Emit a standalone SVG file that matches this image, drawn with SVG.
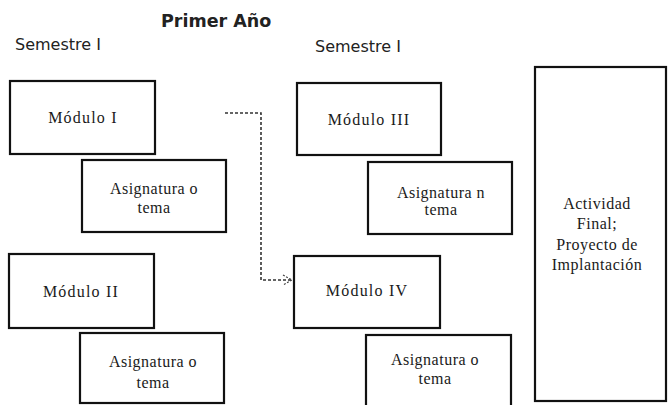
<svg xmlns="http://www.w3.org/2000/svg" width="668" height="405" viewBox="0 0 668 405">
<defs>
<style>
.box{fill:#fff;stroke:#111;stroke-width:2.2}
.lbl{font-family:"Liberation Serif","Times New Roman",serif;font-size:16px;fill:#1a1a1a;text-anchor:middle}
.mod{letter-spacing:1.2px}
.asig{letter-spacing:0.5px}
.hdr{font-family:"DejaVu Sans","Liberation Sans",sans-serif;font-size:16px;fill:#222}
.title{font-family:"DejaVu Sans","Liberation Sans",sans-serif;font-size:17.5px;font-weight:bold;fill:#222}
.conn{fill:none;stroke:#333;stroke-width:1.6;stroke-dasharray:3 2}
</style>
<marker id="arr" markerWidth="12" markerHeight="12" refX="10" refY="6" orient="auto" markerUnits="userSpaceOnUse">
<path d="M1,1 L10,6 L1,11" fill="none" stroke="#444" stroke-width="1.2" stroke-dasharray="2 1.5"/>
</marker>
</defs>
<rect width="668" height="405" fill="#fff"/>
<text class="title" x="161" y="27">Primer Año</text>
<text class="hdr" x="15" y="50">Semestre I</text>
<text class="hdr" x="315" y="52">Semestre I</text>
<g id="connectors">
<path class="conn" d="M225,113 H261 V280 H292" marker-end="url(#arr)"/>
</g>
<g id="modulo1">
<rect class="box" x="10" y="81" width="145" height="73"/>
<text class="lbl mod" x="83" y="123">Módulo I</text>
</g>
<g id="asignatura1">
<rect class="box" x="82" y="160" width="144" height="72"/>
<text class="lbl asig" x="154" y="194">Asignatura o</text>
<text class="lbl asig" x="154" y="213">tema</text>
</g>
<g id="modulo2">
<rect class="box" x="9" y="254" width="145" height="74"/>
<text class="lbl mod" x="81" y="297">Módulo II</text>
</g>
<g id="asignatura2">
<rect class="box" x="80" y="333" width="144" height="70"/>
<text class="lbl asig" x="153" y="367">Asignatura o</text>
<text class="lbl asig" x="153" y="388">tema</text>
</g>
<g id="modulo3">
<rect class="box" x="297" y="83" width="144" height="72"/>
<text class="lbl mod" x="369" y="125">Módulo III</text>
</g>
<g id="asignatura3">
<rect class="box" x="368" y="162" width="144" height="72"/>
<text class="lbl asig" x="441" y="198">Asignatura n</text>
<text class="lbl asig" x="441" y="215">tema</text>
</g>
<g id="modulo4">
<rect class="box" x="294" y="256" width="146" height="72"/>
<text class="lbl mod" x="367" y="296">Módulo IV</text>
</g>
<g id="asignatura4">
<rect class="box" x="366" y="335" width="145" height="72"/>
<text class="lbl asig" x="435" y="365">Asignatura o</text>
<text class="lbl asig" x="435" y="384">tema</text>
</g>
<g id="actividad-final">
<rect class="box" x="535" y="67" width="131" height="334"/>
<text class="lbl asig" x="597" y="209">Actividad</text>
<text class="lbl asig" x="597" y="229">Final;</text>
<text class="lbl asig" x="597" y="250">Proyecto de</text>
<text class="lbl asig" x="597" y="270">Implantación</text>
</g>
</svg>
